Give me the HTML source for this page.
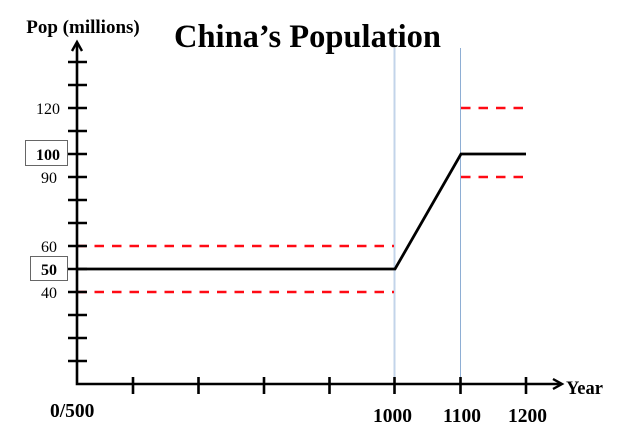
<!DOCTYPE html>
<html><head><meta charset="utf-8"><style>
html,body{margin:0;padding:0;background:#fff;}
svg{display:block;}
text{font-family:"Liberation Serif",serif;}
</style></head><body>
<svg width="627" height="446" viewBox="0 0 627 446" xmlns="http://www.w3.org/2000/svg">
<rect width="627" height="446" fill="#fff"/>
<!-- title -->
<text x="307.5" y="47" text-anchor="middle" font-size="32.5" font-weight="bold" fill="#000">China’s Population</text>
<text x="83" y="33" text-anchor="middle" font-size="19" font-weight="bold" fill="#000">Pop (millions)</text>
<!-- blue verticals -->
<line x1="394.5" y1="48" x2="394.5" y2="384" stroke="#c3d4ea" stroke-width="2"/>
<line x1="460.5" y1="48" x2="460.5" y2="384" stroke="#8eaed4" stroke-width="1"/>
<!-- red dashed -->
<g stroke="#ff0a14" stroke-width="2.5" stroke-dasharray="9.5 8">
<line x1="77" y1="246" x2="394" y2="246"/>
<line x1="77" y1="292" x2="394" y2="292"/>
<line x1="461" y1="108" x2="524" y2="108"/>
<line x1="461" y1="177" x2="524" y2="177"/>
</g>
<!-- axes -->
<g stroke="#000" stroke-width="2.6" fill="none">
<polyline points="77,42 77,384 562,384"/>
<polyline points="72,51 77,42 82,51" stroke-width="2.4"/>
<polyline points="553,379 562,384 553,389" stroke-width="2.4"/>
<!-- y ticks -->
<line x1="68" y1="62" x2="87" y2="62"/>
<line x1="68" y1="85" x2="87" y2="85"/>
<line x1="68" y1="108" x2="87" y2="108"/>
<line x1="68" y1="131" x2="87" y2="131"/>
<line x1="68" y1="154" x2="87" y2="154"/>
<line x1="68" y1="177" x2="87" y2="177"/>
<line x1="68" y1="200" x2="87" y2="200"/>
<line x1="68" y1="223" x2="87" y2="223"/>
<line x1="68" y1="246" x2="87" y2="246"/>
<line x1="68" y1="269" x2="87" y2="269"/>
<line x1="68" y1="292" x2="87" y2="292"/>
<line x1="68" y1="315" x2="87" y2="315"/>
<line x1="68" y1="338" x2="87" y2="338"/>
<line x1="68" y1="361" x2="87" y2="361"/>
<!-- x ticks -->
<line x1="133" y1="377" x2="133" y2="394"/>
<line x1="198.5" y1="377" x2="198.5" y2="394"/>
<line x1="264" y1="377" x2="264" y2="394"/>
<line x1="329.5" y1="377" x2="329.5" y2="394"/>
<line x1="394.5" y1="377" x2="394.5" y2="394"/>
<line x1="460.5" y1="377" x2="460.5" y2="394"/>
<line x1="526" y1="377" x2="526" y2="394"/>
</g>
<!-- data line -->
<polyline points="77,269 395,269 461,154 526,154" fill="none" stroke="#000" stroke-width="2.8" stroke-linejoin="miter"/>
<!-- y labels -->
<g font-size="16" fill="#000" text-anchor="end">
<text x="60" y="114">120</text>
<text x="57" y="183">90</text>
<text x="57" y="252">60</text>
<text x="57" y="298">40</text>
</g>
<rect x="25.5" y="140.5" width="42" height="25" fill="#fff" stroke="#666" stroke-width="1"/>
<text x="60" y="160" font-size="16" font-weight="bold" text-anchor="end">100</text>
<rect x="30.5" y="256.5" width="37" height="24" fill="#fff" stroke="#666" stroke-width="1"/>
<text x="57" y="275" font-size="16" font-weight="bold" text-anchor="end">50</text>
<!-- x labels -->
<g font-size="19.5" font-weight="bold" fill="#000">
<text x="50" y="417">0/500</text>
<text x="392.5" y="422" text-anchor="middle">1000</text>
<text x="462" y="422" text-anchor="middle">1100</text>
<text x="527.5" y="422" text-anchor="middle">1200</text>
<text x="566" y="394" font-size="18.5">Year</text>
</g>
</svg>
</body></html>
